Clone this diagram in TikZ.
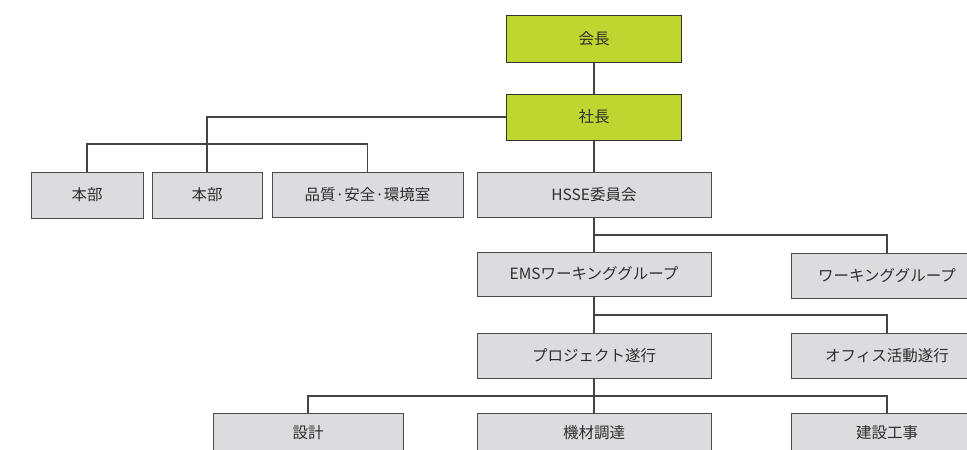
\documentclass[tikz,border=0pt]{standalone}
\usepackage{fontspec}
\newfontfamily\jp{Noto Sans CJK JP}
\definecolor{limefill}{HTML}{C0D630}
\definecolor{boxgrey}{HTML}{DCDCDE}
\definecolor{boxline}{HTML}{4A4A4A}
\definecolor{linec}{HTML}{444444}
\definecolor{textc}{HTML}{2E2E2E}
\begin{document}
\begin{tikzpicture}[x=1pt,y=-1pt,
  box/.style={draw=boxline, fill=boxgrey, line width=1pt, minimum height=45pt,
    inner sep=0pt, font=\jp\fontsize{15.5}{15.5}\selectfont, text=textc},
  topbox/.style={box, fill=limefill, draw=black!80},
  conn/.style={draw=linec, line width=1.2pt}]
\useasboundingbox (0,0) rectangle (967,450);
\clip (0,0) rectangle (967,450);
\fill[white] (0,0) rectangle (967,450);
\node[topbox, minimum width=175pt, minimum height=47pt] (kaicho) at (594,38.5) {会長};
\node[topbox, minimum width=175pt, minimum height=46pt] (shacho) at (594,117) {社長};
\node[box, minimum width=112pt, minimum height=46pt] (honbuA) at (87,195) {本部};
\node[box, minimum width=110pt, minimum height=46pt] (honbuB) at (207,195) {本部};
\node[box, minimum width=191pt, minimum height=45pt] (hinshitsu) at (367.5,194.5) {品質·安全·環境室};
\node[box, minimum width=234pt] (hsse) at (594,194.5) {HSSE委員会};
\node[box, minimum width=234pt, minimum height=44pt] (ems) at (594,274) {EMSワーキンググループ};
\node[box, minimum width=192pt] (wg) at (887,275.5) {ワーキンググループ};
\node[box, minimum width=234pt] (pj) at (594,355.5) {プロジェクト遂行};
\node[box, minimum width=192pt] (office) at (887,355.5) {オフィス活動遂行};
\node[box, minimum width=190pt, minimum height=40pt] (sekkei) at (308,433) {設計};
\node[box, minimum width=234pt, minimum height=40pt] (kizai) at (594,433) {機材調達};
\node[box, minimum width=192pt, minimum height=40pt] (kensetsu) at (887,433) {建設工事};
\coordinate (busA) at (207,144);
\coordinate (busB) at (594,235);
\coordinate (busC) at (594,315);
\coordinate (busD) at (594,396);
\draw[conn] (kaicho.south) -- (shacho.north);
\draw[conn] (shacho.west) -| (honbuB.north);
\draw[conn] (honbuA.north) |- (busA) -| (hinshitsu.north);
\draw[conn] (shacho.south) -- (hsse.north);
\draw[conn] (hsse.south) -- (ems.north);
\draw[conn] (busB) -| (wg.north);
\draw[conn] (ems.south) -- (pj.north);
\draw[conn] (busC) -| (office.north);
\draw[conn] (pj.south) -- (kizai.north);
\draw[conn] (sekkei.north) |- (busD) -| (kensetsu.north);
\end{tikzpicture}
\end{document}
